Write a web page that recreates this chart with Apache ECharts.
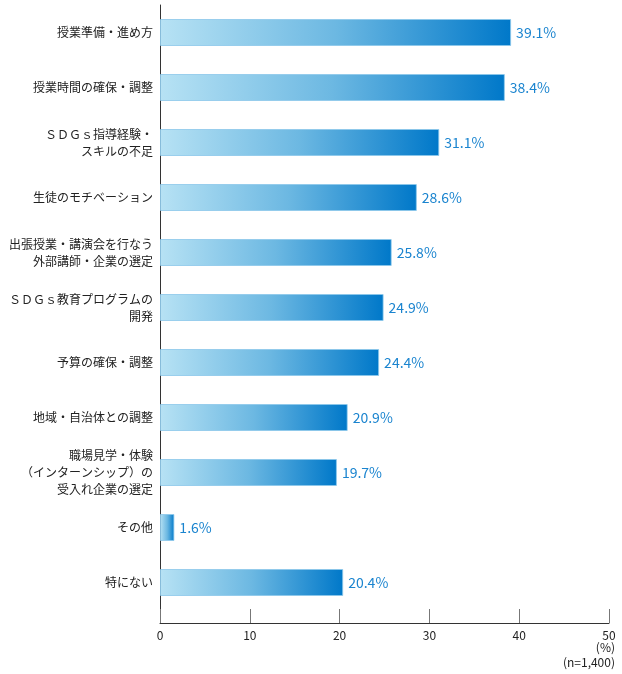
<!DOCTYPE html>
<html>
<head>
<meta charset="utf-8">
<script src="https://cdn.jsdelivr.net/npm/echarts@6/dist/echarts.min.js"></script>
<style>
  html, body { margin: 0; padding: 0; background: #fff; }
  #chart { width: 622px; height: 674px; }
</style>
</head>
<body>
<div id="chart"></div>
<script>
// 項目（上から順）
var categories = [
  "授業準備・進め方",
  "授業時間の確保・調整",
  "ＳＤＧｓ指導経験・\nスキルの不足",
  "生徒のモチベーション",
  "出張授業・講演会を行なう\n外部講師・企業の選定",
  "ＳＤＧｓ教育プログラムの\n開発",
  "予算の確保・調整",
  "地域・自治体との調整",
  "職場見学・体験\n（インターンシップ）の\n受入れ企業の選定",
  "その他",
  "特にない"
];
var values = [39.1, 38.4, 31.1, 28.6, 25.8, 24.9, 24.4, 20.9, 19.7, 1.6, 20.4];
var xTicks = [0, 10, 20, 30, 40, 50];

var font = '"Noto Sans CJK JP", "Noto Sans", sans-serif';
var myChart = echarts.init(document.getElementById("chart"));

var option = {
  animation: false,
  title: {
    text: "(%)\n(n=1,400)",
    left: 610,
    top: 635,
    textAlign: "right",
    textStyle: {
      color: "#222",
      fontSize: 12,
      fontWeight: "normal",
      lineHeight: 15,
      fontFamily: font,
      align: "right"
    }
  },
  grid: [
    // バー用
    { left: 160, right: 13, top: 5, bottom: 64 },
    // 軸線用
    { left: 160, right: 13, top: 5, bottom: 51 }
  ],
  xAxis: [
    { gridIndex: 0, type: "value", min: 0, max: 50, interval: 10, show: false },
    {
      gridIndex: 1,
      type: "value",
      min: xTicks[0],
      max: xTicks[xTicks.length - 1],
      interval: 10,
      axisLine: { show: true, lineStyle: { color: "#333", width: 1 } },
      axisTick: { show: true, inside: true, length: 14, lineStyle: { color: "#777" } },
      splitLine: { show: false },
      axisLabel: {
        color: "#222",
        fontSize: 12,
        fontFamily: font,
        margin: 6
      }
    }
  ],
  yAxis: [
    {
      gridIndex: 0,
      type: "category",
      inverse: true,
      data: categories,
      axisLine: { show: false },
      axisTick: { show: false },
      axisLabel: {
        color: "#222",
        fontSize: 12,
        lineHeight: 17,
        margin: 7,
        fontFamily: font
      }
    },
    {
      gridIndex: 1,
      type: "value",
      min: 0,
      max: 1,
      axisLine: { show: true, lineStyle: { color: "#333", width: 1 } },
      axisTick: { show: false },
      axisLabel: { show: false },
      splitLine: { show: false }
    }
  ],
  series: [
    {
      type: "bar",
      xAxisIndex: 0,
      yAxisIndex: 0,
      data: values,
      barWidth: 27,
      itemStyle: {
        color: new echarts.graphic.LinearGradient(0, 0, 1, 0, [
          { offset: 0, color: "#b7e2f4" },
          { offset: 0.5, color: "#6cb8e2" },
          { offset: 1, color: "#0078c9" }
        ]),
        borderColor: "rgba(140,200,235,0.8)",
        borderWidth: 1
      },
      label: {
        show: true,
        position: "right",
        distance: 5,
        formatter: function (p) {
          return p.value.toFixed(1) + "%";
        },
        color: "#1a84cf",
        fontSize: 14,
        fontFamily: font
      }
    }
  ]
};
myChart.setOption(option);
</script>
</body>
</html>
